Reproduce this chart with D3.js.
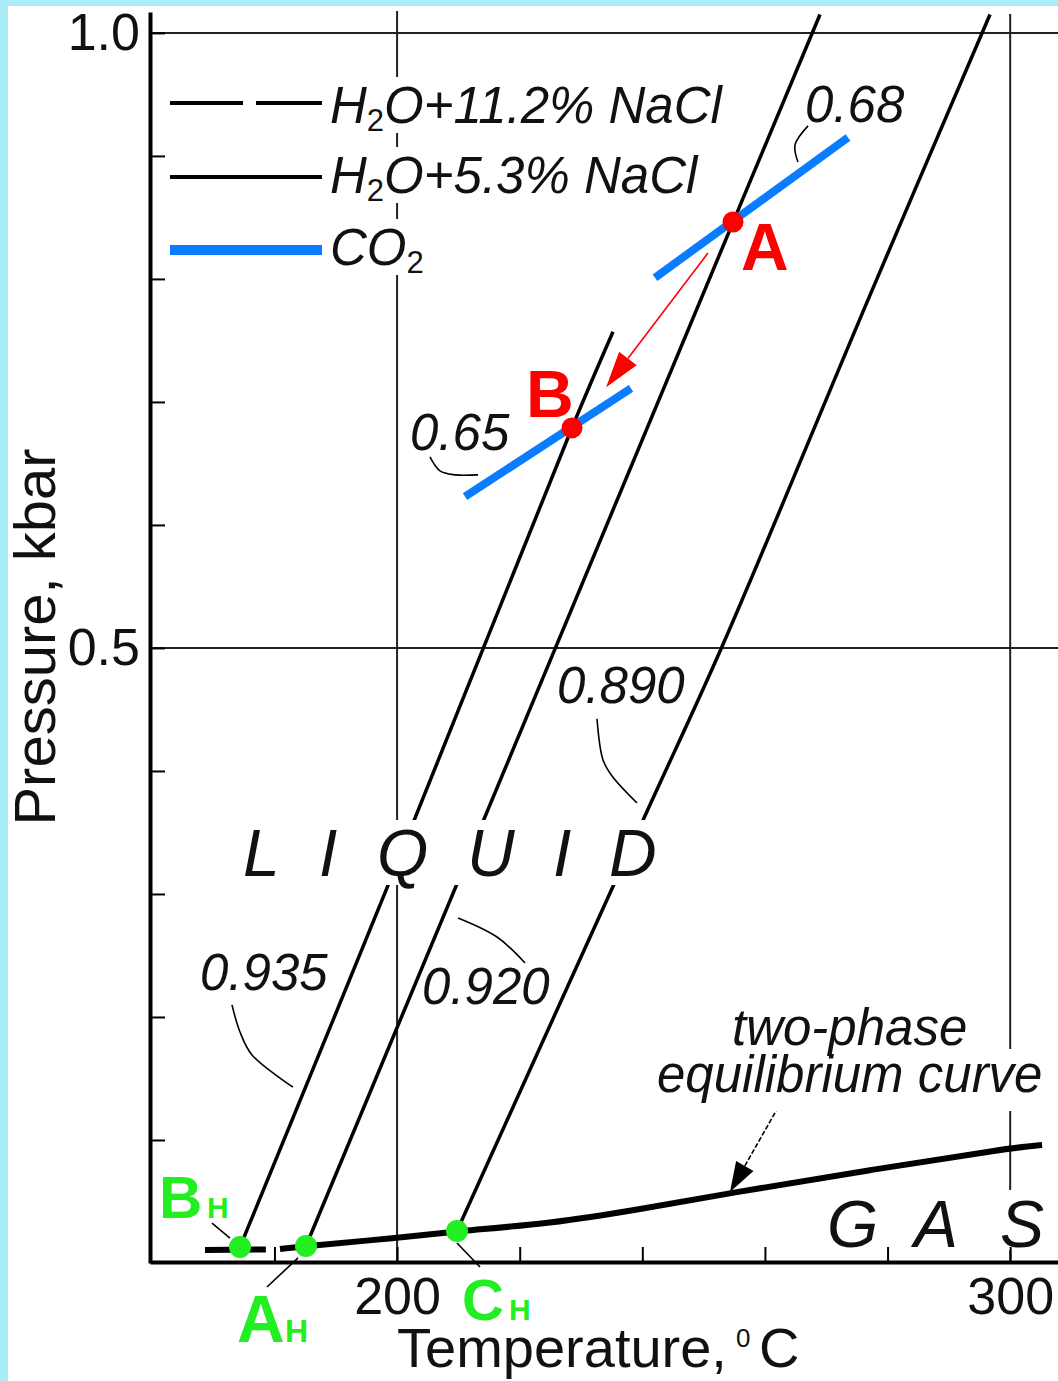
<!DOCTYPE html>
<html><head><meta charset="utf-8">
<script src="https://cdn.jsdelivr.net/npm/d3@7"></script>
<style>
html,body{margin:0;padding:0;background:#aaedf9;}
svg{display:block;}
text{font-family:"Liberation Sans",Arial,Helvetica,sans-serif;}
</style></head><body>
<svg id="chart" width="1058" height="1381"></svg>
<script>
// ---------------- data ----------------
const xTickValues = [180, 200, 220, 240, 260, 280, 300];
const xTickLabels = {200: "200", 300: "300"};
const yTickValues = [0.1, 0.2, 0.3, 0.4, 0.5, 0.6, 0.7, 0.8, 0.9, 1.0];
const yTickLabels = {0.5: "0.5", 1: "1.0"};
const xGrid = [200, 300];
const yGrid = [0.5, 1.0];

// isochores (temperature °C, pressure kbar)
const iso935 = [[174.38, 0.013], [198.52, 0.307], [228.53, 0.679], [235.22, 0.757]];
const iso920 = [[185.14, 0.0138], [254.79, 0.846], [268.98, 1.015]];
const iso890 = [[209.77, 0.026], [240.11, 0.360], [252.99, 0.501], [276.81, 0.783], [296.71, 1.015]];
// two-phase equilibrium curve
const twoPhaseDashed = [[168.67, 0.0106], [178.6, 0.0110]];
const twoPhase = [[180.9, 0.0114], [185.14, 0.0138], [200, 0.0203], [209.77, 0.026], [225.0, 0.0320], [239.62, 0.0437], [254.3, 0.0569], [277.13, 0.0756], [300, 0.0935], [305.2, 0.0959]];
// CO2 isochores
const co2_068 = [[242.07, 0.801], [273.55, 0.915]];
const co2_065 = [[211.08, 0.623], [238.15, 0.711]];
const redPoints = [{name: "A", t: 254.79, p: 0.8463}, {name: "B", t: 228.53, p: 0.6789}];
const greenPoints = [{name: "B", t: 174.38, p: 0.013}, {name: "A", t: 185.14, p: 0.0138}, {name: "C", t: 209.77, p: 0.026}];
const arrowAB = [[250.7, 0.821], [234.1, 0.712]];
const arrowTwoPhase = [[262.2, 0.127], [254.3, 0.0577]];
const legendNames = ["H2O+11.2% NaCl", "H2O+5.3% NaCl", "CO2"];
const densityLabels = ["0.68", "0.65", "0.890", "0.935", "0.920"];
// leader curves for density labels (°C, kbar)
const leaders = [
  [[267.03, 0.9244], [264.90, 0.9089], [265.39, 0.8951]],
  [[205.37, 0.6553], [207.00, 0.6439], [209.45, 0.6407], [213.20, 0.6407]],
  [[232.61, 0.4423], [233.59, 0.4089], [235.06, 0.3959], [239.13, 0.3740]],
  [[173.07, 0.2098], [174.38, 0.1878], [176.34, 0.1691], [183.02, 0.1431]],
  [[209.94, 0.2805], [216.30, 0.2650], [220.86, 0.2439]]
];
const greenLeaders = [
  [[169.81, 0.0325], [172.75, 0.0203]],
  [[178.78, -0.0195], [183.84, 0.0041]],
  [[209.77, 0.0163], [213.52, -0.0033]]
];

// ---------------- chart ----------------
const svg = d3.select("#chart");
const FONT = '"Liberation Sans",Arial,Helvetica,sans-serif';
const BLUE = "#0a7cff", RED = "#ff0000", GREEN = "#22ee22";

svg.append("rect").attr("x", 8).attr("y", 6).attr("width", 1050).attr("height", 1375).attr("fill", "#ffffff");

const x = d3.scaleLinear().domain([159.7, 307.8]).range([150, 1058]);
const y = d3.scaleLinear().domain([0, 1.017]).range([1263, 12]);
const line = d3.line().x(d => x(d[0])).y(d => y(d[1]));

// grid
svg.append("g").selectAll("line").data(xGrid).join("line")
  .attr("x1", d => x(d)).attr("x2", d => x(d))
  .attr("y1", (d, i) => i === 0 ? 11 : 14).attr("y2", y(0))
  .attr("stroke", "#222").attr("stroke-width", 2);
svg.append("g").selectAll("line").data(yGrid).join("line")
  .attr("x1", x(159.7)).attr("x2", 1058)
  .attr("y1", d => y(d)).attr("y2", d => y(d))
  .attr("stroke", "#222").attr("stroke-width", 2);

// isochores
[iso935, iso920, iso890].forEach(s => {
  svg.append("path").attr("d", line.curve(d3.curveCatmullRom)(s))
    .attr("fill", "none").attr("stroke", "#000").attr("stroke-width", 3.5);
});
// two-phase curve
svg.append("path").attr("d", line.curve(d3.curveLinear)(twoPhaseDashed))
  .attr("fill", "none").attr("stroke", "#000").attr("stroke-width", 6);
svg.append("path").attr("d", line.curve(d3.curveBasis)(twoPhase))
  .attr("fill", "none").attr("stroke", "#000").attr("stroke-width", 6);
// CO2
[co2_068, co2_065].forEach(s => {
  svg.append("path").attr("d", line.curve(d3.curveLinear)(s))
    .attr("fill", "none").attr("stroke", BLUE).attr("stroke-width", 8);
});

// leaders
const leaderLine = d3.line().x(d => x(d[0])).y(d => y(d[1])).curve(d3.curveCatmullRom);
leaders.concat(greenLeaders).forEach(s => {
  svg.append("path").attr("d", leaderLine(s)).attr("fill", "none")
    .attr("stroke", "#000").attr("stroke-width", 1.6);
});

// helper: white background box behind a text
function bg(sel, trimTop, trimBottom, padX) {
  const b = sel.node().getBBox();
  const r = document.createElementNS("http://www.w3.org/2000/svg", "rect");
  sel.node().parentNode.insertBefore(r, sel.node());
  d3.select(r)
    .attr("x", b.x - (padX || 0)).attr("y", b.y + trimTop)
    .attr("width", b.width + 2 * (padX || 0)).attr("height", b.height - trimTop - trimBottom)
    .attr("fill", "#fff");
}

// arrows
function arrow(data, color, len, hw, dash) {
  const p0 = [x(data[0][0]), y(data[0][1])], p1 = [x(data[1][0]), y(data[1][1])];
  const dx = p1[0] - p0[0], dy = p1[1] - p0[1], L = Math.hypot(dx, dy);
  const u = [dx / L, dy / L], n = [-u[1], u[0]];
  const base = [p1[0] - u[0] * len, p1[1] - u[1] * len];
  svg.append("line").attr("x1", p0[0]).attr("y1", p0[1]).attr("x2", base[0]).attr("y2", base[1])
    .attr("stroke", color).attr("stroke-width", 1.6).attr("stroke-dasharray", dash || null);
  svg.append("polygon").attr("points", [p1, [base[0] + n[0] * hw, base[1] + n[1] * hw], [base[0] - n[0] * hw, base[1] - n[1] * hw]].map(p => p.join(",")).join(" "))
    .attr("fill", color);
}
arrow(arrowAB, RED, 36, 11);
arrow(arrowTwoPhase, "#000", 30, 10, "5,2");

// points
svg.append("g").selectAll("circle").data(redPoints).join("circle")
  .attr("cx", d => x(d.t)).attr("cy", d => y(d.p)).attr("r", 10.5).attr("fill", RED);
svg.append("g").selectAll("circle").data(greenPoints).join("circle")
  .attr("cx", d => x(d.t)).attr("cy", d => y(d.p)).attr("r", 11).attr("fill", GREEN);

// point labels
svg.append("text").attr("x", 741).attr("y", 270).attr("font-size", 66).attr("font-weight", "bold").attr("fill", RED).text(redPoints[0].name);
svg.append("text").attr("x", 526).attr("y", 417).attr("font-size", 66).attr("font-weight", "bold").attr("fill", RED).text(redPoints[1].name);
function gLabel(name, xx, yy, fs, hx, hfs) {
  const t = svg.append("text").attr("y", yy).attr("fill", GREEN).attr("font-weight", "bold");
  t.append("tspan").attr("x", xx).attr("font-size", fs).text(name);
  t.append("tspan").attr("x", hx).attr("font-size", hfs).text("H");
}
gLabel(greenPoints[0].name, 159, 1218, 60, 207, 30);
gLabel(greenPoints[1].name, 237, 1342, 66, 285, 32);
gLabel(greenPoints[2].name, 462, 1320, 58, 509, 30);

// density labels
const dPos = [[805, 122], [410, 450], [557, 703], [200, 990], [422, 1004]];
densityLabels.forEach((s, i) => {
  svg.append("text").attr("x", dPos[i][0]).attr("y", dPos[i][1]).attr("font-size", 51)
    .attr("font-style", "italic").attr("fill", "#111").text(s);
});

// LIQUID
const liq = svg.append("text").attr("y", 876).attr("font-size", 66).attr("font-style", "italic").attr("fill", "#111");
const liqX = [243, 319, 377, 467, 553, 609];
"LIQUID".split("").forEach((c, i) => liq.append("tspan").attr("x", liqX[i]).text(c));
bg(liq, 4, 5, 4);
// GAS
const gas = svg.append("text").attr("y", 1247).attr("font-size", 66).attr("font-style", "italic").attr("fill", "#111");
const gasX = [827, 914, 1000];
"GAS".split("").forEach((c, i) => gas.append("tspan").attr("x", gasX[i]).text(c));
bg(gas, 3, 11, 2);
// two-phase text
const eq = svg.append("text").attr("x", 657).attr("y", 1092).attr("font-size", 51).attr("font-style", "italic").attr("fill", "#111").text("equilibrium curve");
bg(eq, 3, -8, 0);
svg.append("text").attr("x", 732).attr("y", 1045).attr("font-size", 51).attr("font-style", "italic").attr("fill", "#111").text("two-phase");

// legend
const legY = [103, 177, 250];
svg.append("line").attr("x1", 170).attr("x2", 322).attr("y1", legY[0]).attr("y2", legY[0]).attr("stroke", "#000").attr("stroke-width", 4).attr("stroke-dasharray", "73,13");
svg.append("line").attr("x1", 170).attr("x2", 322).attr("y1", legY[1]).attr("y2", legY[1]).attr("stroke", "#000").attr("stroke-width", 4);
svg.append("line").attr("x1", 170).attr("x2", 322).attr("y1", legY[2]).attr("y2", legY[2]).attr("stroke", BLUE).attr("stroke-width", 10);
const legBase = [123, 193, 265];
legendNames.forEach((name, i) => {
  const t = svg.append("text").attr("x", 330).attr("y", legBase[i]).attr("font-size", 51).attr("font-style", "italic").attr("fill", "#111");
  const m = name.match(/^([A-Z]+)2(.*)$/);
  t.append("tspan").text(m[1]);
  t.append("tspan").attr("font-size", 31).attr("font-style", "normal").attr("dy", 8).text("2");
  if (m[2]) t.append("tspan").attr("dy", -8).text(m[2]);
  bg(t, 0, 5, 0);
});

// axes
const xAxis = d3.axisBottom(x).tickValues(xTickValues).tickSize(-15).tickSizeOuter(0).tickPadding(15)
  .tickFormat(d => xTickLabels[d] || "");
const gx = svg.append("g").attr("transform", "translate(0,1262)").call(xAxis);
gx.select(".domain").attr("stroke", "#000").attr("stroke-width", 4);
gx.selectAll(".tick line").attr("stroke", "#000").attr("stroke-width", 2);
gx.selectAll(".tick text").attr("font-size", 52).attr("font-family", FONT).attr("fill", "#111");

const yAxis = d3.axisLeft(y).tickValues(yTickValues).tickSize(-15).tickSizeOuter(0).tickPadding(10)
  .tickFormat(d => yTickLabels[d] || "");
const gy = svg.append("g").attr("transform", "translate(150,0)").call(yAxis);
gy.select(".domain").attr("stroke", "#000").attr("stroke-width", 4);
gy.selectAll(".tick line").attr("stroke", "#000").attr("stroke-width", 2);
gy.selectAll(".tick text").attr("font-size", 52).attr("font-family", FONT).attr("fill", "#111");

// axis titles
const xt = svg.append("text").attr("y", 1367).attr("font-size", 56).attr("fill", "#111");
xt.append("tspan").attr("x", 397).text("Temperature,");
xt.append("tspan").attr("x", 736).attr("y", 1347).attr("font-size", 26).text("0");
xt.append("tspan").attr("x", 759).attr("y", 1367).text("C");
svg.append("text").attr("transform", "translate(55,637) rotate(-90)").attr("text-anchor", "middle")
  .attr("font-size", 58).attr("fill", "#111").text("Pressure, kbar");
</script>
</body></html>
